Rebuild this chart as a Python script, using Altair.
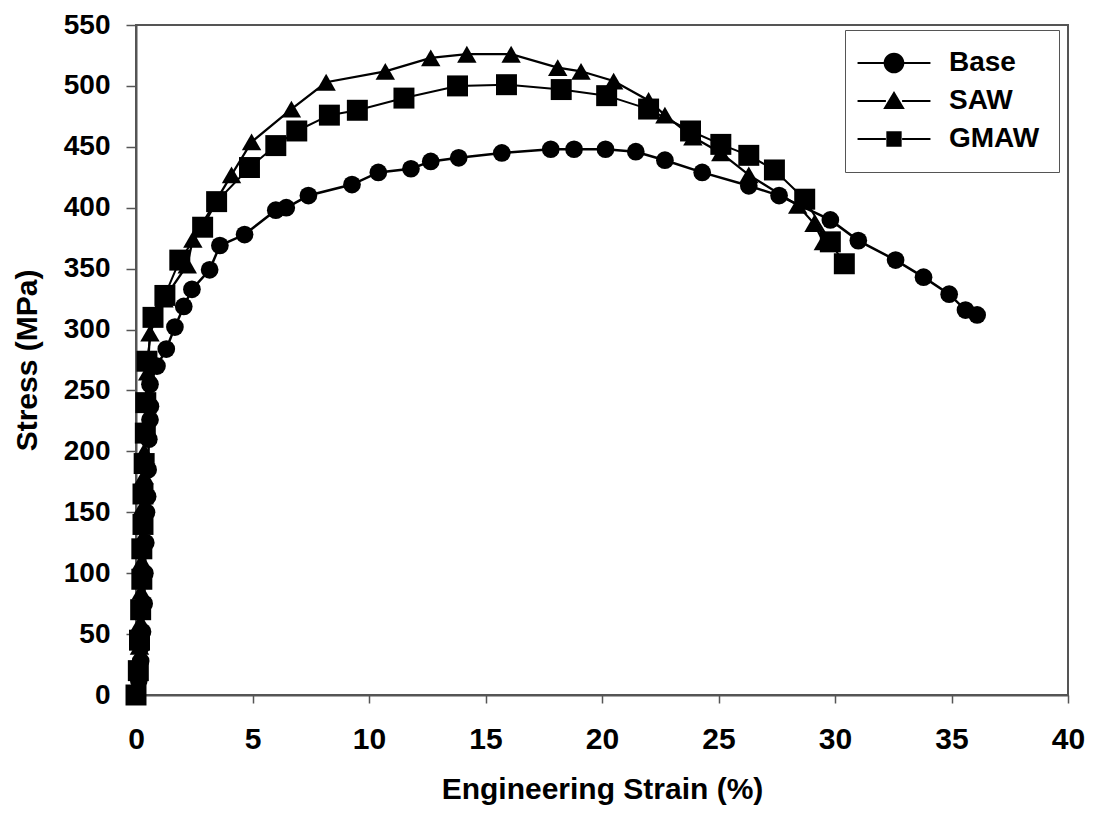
import altair as alt
import pandas as pd

# ---- data ----
base_strain = [0.05, 0.12, 0.2, 0.22, 0.28, 0.35, 0.38, 0.42, 0.45, 0.5, 0.52, 0.55, 0.6, 0.62, 0.6,
               0.9, 1.3, 1.67, 2.05, 2.4, 3.16, 3.6, 4.66, 6.0, 6.45, 7.4, 9.27, 10.4, 11.8, 12.65,
               13.85, 15.7, 17.8, 18.8, 20.15, 21.45, 22.7, 24.3, 26.3, 27.6, 29.8, 31.0, 32.6,
               33.8, 34.9, 35.6, 36.1]
base_stress = [0, 12, 28, 40, 52, 75, 100, 125, 150, 163, 185, 210, 226, 237, 255,
               270, 284, 302, 319, 333, 349, 369, 378, 398, 400, 410, 419, 429, 432, 438,
               441, 445, 448, 448, 448, 446, 439, 429, 418, 410, 390, 373, 357,
               343, 329, 316, 312]

saw_strain = [0.0, 0.1, 0.15, 0.2, 0.22, 0.25, 0.3, 0.3, 0.35, 0.35, 0.4, 0.45, 0.5, 0.6,
              1.2, 2.2, 2.44, 4.1, 4.96, 6.67, 8.16, 10.7, 12.65, 14.2, 16.1, 18.1, 19.1,
              20.5, 22.0, 22.7, 23.9, 25.1, 26.3, 28.4, 29.1, 29.5]
saw_stress = [0, 20, 40, 60, 85, 110, 130, 155, 180, 200, 220, 240, 265, 297,
              325, 353, 374, 427, 454, 481, 503, 512, 523, 526, 526, 515, 512,
              504, 488, 476, 458, 445, 427, 402, 387, 372]

gmaw_strain = [0.0, 0.1, 0.15, 0.2, 0.25, 0.25, 0.3, 0.3, 0.35, 0.4, 0.42, 0.47, 0.73, 1.24,
               1.88, 2.86, 3.46, 4.87, 6.0, 6.9, 8.3, 9.5, 11.5, 13.8, 15.9, 18.25, 20.2,
               22.0, 23.8, 25.1, 26.3, 27.4, 28.7, 29.8, 30.4]
gmaw_stress = [0, 20, 45, 70, 95, 120, 140, 165, 190, 215, 240, 274, 310, 328,
               357, 384, 405, 433, 451, 463, 476, 480, 490, 500, 501, 497, 492,
               481, 463, 452, 443, 431, 407, 372, 354]

series_names = ["Base", "SAW", "GMAW"]
x_ticks = [0, 5, 10, 15, 20, 25, 30, 35, 40]
y_ticks = [0, 50, 100, 150, 200, 250, 300, 350, 400, 450, 500, 550]

rows = []
for name, xs, ys in [("Base", base_strain, base_stress),
                     ("SAW", saw_strain, saw_stress),
                     ("GMAW", gmaw_strain, gmaw_stress)]:
    for i, (sx, sy) in enumerate(zip(xs, ys)):
        rows.append({"series": name, "strain": sx, "stress": sy, "idx": i})
df = pd.DataFrame(rows)

FONT = "Liberation Sans"

x_enc = alt.X("strain:Q", scale=alt.Scale(domain=[0, 40], nice=False, zero=False),
              axis=alt.Axis(values=x_ticks, title="Engineering Strain (%)", grid=False,
                            labelFontSize=30, titleFontSize=30, labelPadding=21,
                            titlePadding=20, tickSize=8, labelFlush=False))
y_enc = alt.Y("stress:Q", scale=alt.Scale(domain=[0, 550], nice=False, zero=False),
              axis=alt.Axis(values=y_ticks, title="Stress (MPa)", grid=False,
                            labelFontSize=28, titleFontSize=30, labelPadding=16,
                            titlePadding=21, tickSize=10, labelFlush=False))

lines = alt.Chart(df).mark_line(color="black").encode(
    x=x_enc, y=y_enc,
    detail="series:N",
    order="idx:Q",
    strokeWidth=alt.StrokeWidth("series:N",
                                scale=alt.Scale(domain=series_names, range=[2.5, 2, 1]),
                                legend=None),
)

points = alt.Chart(df).mark_point(filled=True, color="black", opacity=1).encode(
    x="strain:Q", y="stress:Q",
    shape=alt.Shape("series:N",
                    scale=alt.Scale(domain=series_names,
                                    range=["circle", "triangle-up", "square"]),
                    legend=None),
    size=alt.Size("series:N",
                  scale=alt.Scale(domain=series_names, range=[314, 440, 324]),
                  legend=None),
)

# legend symbols: a horizontal bar on each side of the marker (filled shapes)
bars = "M-4.05,-0.12H-0.9V0.12H-4.05ZM0.9,-0.12H4.05V0.12H0.9Z"
circ = bars + "M-1.15,0A1.15,1.15 0 1,1 1.15,0A1.15,1.15 0 1,1 -1.15,0Z"
tri = bars + "M0,-1.1L1.2,0.9L-1.2,0.9Z"
sq = bars + "M-0.85,-0.85H0.85V0.85H-0.85Z"

legend_layer = alt.Chart(df).transform_filter("datum.stress < -1000").mark_point(
    filled=True, color="black").encode(
    x="strain:Q", y="stress:Q",
    shape=alt.Shape("series:N",
                    scale=alt.Scale(domain=series_names, range=[circ, tri, sq]),
                    legend=alt.Legend(
                        title=None, orient="none", legendX=709, legendY=5,
                        padding=19, symbolOffset=16, labelOffset=41,
                        symbolSize=324, symbolStrokeWidth=0,
                        symbolFillColor="black", symbolStrokeColor="black",
                        symbolOpacity=1,
                        labelFontSize=28, labelFont=FONT, labelFontWeight="bold",
                        labelColor="black", rowPadding=10,
                        strokeColor="#555", fillColor="white")),
)

chart = alt.layer(lines, points, legend_layer).resolve_scale(
    shape="independent", size="independent"
).properties(
    width=932, height=670,
    autosize=alt.AutoSizeParams(type="none"),
    padding={"left": 128, "top": 17, "right": 17, "bottom": 110},
).configure_view(
    stroke="#555", strokeWidth=2
).configure_axis(
    labelFont=FONT, titleFont=FONT, labelFontWeight="bold", titleFontWeight="bold",
    labelColor="black", titleColor="black",
    domainColor="#555", domainWidth=2, tickColor="#555", tickWidth=1.5,
)

chart.save("out.html", embed_options={"renderer": "svg", "actions": False})
